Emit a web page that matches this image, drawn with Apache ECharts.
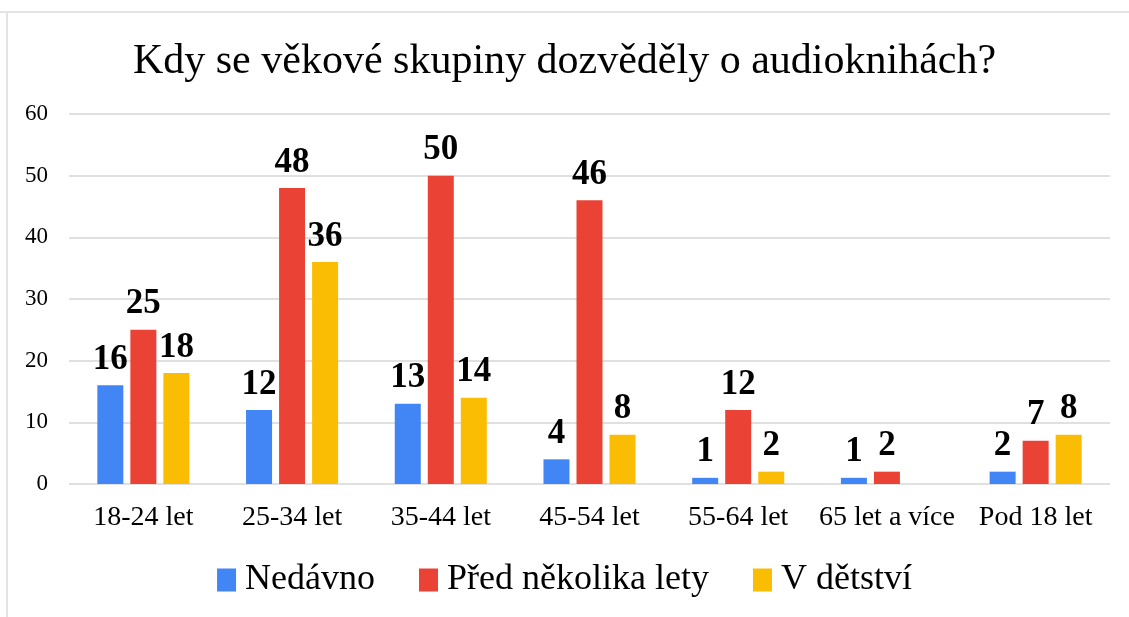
<!DOCTYPE html>
<html>
<head>
<meta charset="utf-8">
<script src="https://cdn.jsdelivr.net/npm/echarts@6/dist/echarts.min.js"></script>
<style>
  html, body { margin: 0; padding: 0; background: #fff; }
  #chart { width: 1129px; height: 617px; }
</style>
</head>
<body>
<div id="chart"></div>
<script>
const categories = ['18-24 let', '25-34 let', '35-44 let', '45-54 let', '55-64 let', '65 let a více', 'Pod 18 let'];
const nedavno = [16, 12, 13, 4, 1, 1, 2];
const predLety = [25, 48, 50, 46, 12, 2, 7];
const vDetstvi = [18, 36, 14, 8, 2, null, 8];
const yTicks = [0, 10, 20, 30, 40, 50, 60];

const serif = '"Liberation Serif", "Times New Roman", serif';

function makeSeries(name, data, color) {
  return {
    name: name,
    type: 'bar',
    data: data,
    barWidth: 26,
    barGap: '27%',
    itemStyle: { color: color },
    label: {
      show: true,
      position: 'top',
      distance: 8,
      fontFamily: serif,
      fontWeight: 'bold',
      fontSize: 35,
      color: '#000',
    },
  };
}

const chart = echarts.init(document.getElementById('chart'), null, { renderer: 'canvas' });
chart.setOption({
  animation: false,
  title: {
    text: 'Kdy se věkové skupiny dozvěděly o audioknihách?',
    left: 'center',
    top: 36,
    textStyle: { fontFamily: serif, fontWeight: 'normal', fontSize: 42, color: '#000' },
  },
  legend: {
    bottom: 14,
    left: 'center',
    itemWidth: 19,
    itemHeight: 23,
    itemGap: 44,
    icon: 'rect',
    textStyle: { fontFamily: serif, fontSize: 36, color: '#000', padding: [0, 0, 0, 4] },
  },
  grid: { left: 69, right: 19, top: 114, bottom: 133 },
  xAxis: {
    type: 'category',
    data: categories,
    axisLine: { show: false },
    axisTick: { show: false },
    axisLabel: { interval: 0, hideOverlap: false, fontFamily: serif, fontSize: 28, color: '#000', margin: 20 },
  },
  yAxis: {
    type: 'value',
    min: yTicks[0],
    max: yTicks[yTicks.length - 1],
    interval: 10,
    axisLine: { show: false },
    axisTick: { show: false },
    axisLabel: { fontFamily: serif, fontSize: 23, color: '#000', margin: 21 },
    splitLine: { lineStyle: { color: '#e0e0e0', width: 2 } },
  },
  series: [
    makeSeries('Nedávno', nedavno, '#4285F4'),
    makeSeries('Před několika lety', predLety, '#EA4335'),
    makeSeries('V dětství', vDetstvi, '#FBBC04'),
  ],
  graphic: [
    { type: 'line', shape: { x1: 0, y1: 12, x2: 1129, y2: 12 }, style: { stroke: '#e3e3e3', lineWidth: 2 } },
    { type: 'line', shape: { x1: 7, y1: 12, x2: 7, y2: 617 }, style: { stroke: '#e3e3e3', lineWidth: 2 } },
  ],
});
</script>
</body>
</html>
